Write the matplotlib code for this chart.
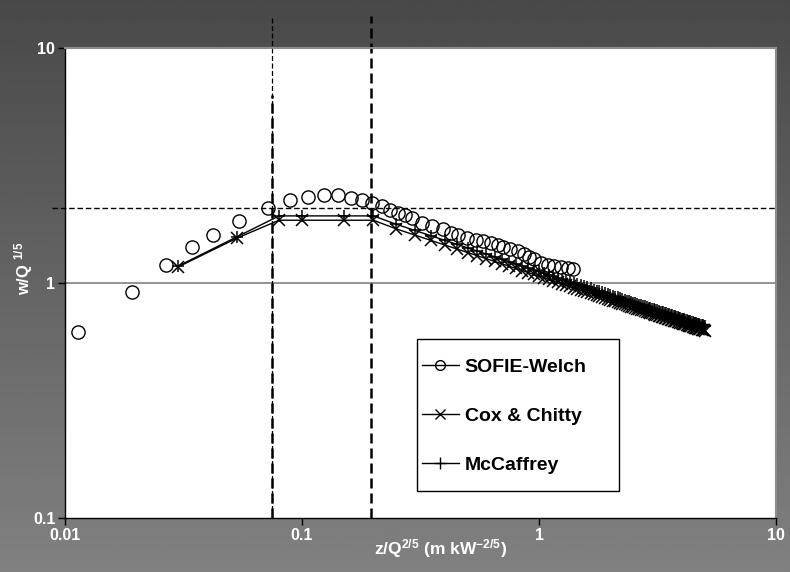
import numpy as np
import matplotlib
matplotlib.use('Agg')
import matplotlib.pyplot as plt
from matplotlib.lines import Line2D
from matplotlib.patches import Rectangle

plt.rcParams['font.family'] = ['Liberation Sans', 'DejaVu Sans']
plt.rcParams['mathtext.fontset'] = 'custom'
plt.rcParams['mathtext.rm'] = 'Liberation Sans:bold'
plt.rcParams['mathtext.default'] = 'rm'

# SOFIE-Welch simulation points
sofie_z = [0.0114, 0.0192, 0.0267, 0.0344, 0.0422, 0.0543, 0.0721, 0.0892, 0.106, 0.124,
           0.142, 0.161, 0.180, 0.198, 0.218, 0.236, 0.255, 0.273, 0.292, 0.322,
           0.355, 0.392, 0.424, 0.457, 0.499, 0.540, 0.583, 0.625, 0.669, 0.708,
           0.758, 0.812, 0.861, 0.904, 0.949, 1.016, 1.087, 1.153, 1.234, 1.321, 1.387]
sofie_w = [0.62, 0.92, 1.19, 1.42, 1.60, 1.84, 2.08, 2.26, 2.32, 2.37,
           2.37, 2.30, 2.26, 2.19, 2.13, 2.05, 1.99, 1.95, 1.89, 1.80,
           1.75, 1.70, 1.63, 1.60, 1.55, 1.52, 1.51, 1.48, 1.45, 1.42,
           1.40, 1.37, 1.33, 1.29, 1.27, 1.22, 1.19, 1.18, 1.17, 1.16, 1.15]

# flame / intermittent region points (both correlations)
near_z = [0.03, 0.053, 0.08, 0.1, 0.15, 0.2]
cox_near_w = [1.17, 1.55, 1.85, 1.85, 1.85, 1.85]
mcc_near_w = [1.18, 1.57, 1.93, 1.93, 1.93, 1.93]

# plume region points
far_z = [0.25, 0.30, 0.35, 0.40, 0.45, 0.50, 0.55, 0.60, 0.65, 0.70,
         0.75, 0.80, 0.85, 0.90, 0.95, 1.00, 1.05, 1.10, 1.15, 1.20,
         1.25, 1.30, 1.35, 1.40, 1.45, 1.50, 1.55, 1.60, 1.65, 1.70,
         1.75, 1.80, 1.85, 1.90, 1.95, 2.00, 2.05, 2.10, 2.15, 2.20,
         2.25, 2.30, 2.35, 2.40, 2.45, 2.50, 2.55, 2.60, 2.65, 2.70,
         2.75, 2.80, 2.85, 2.90, 2.95, 3.00, 3.05, 3.10, 3.15, 3.20,
         3.25, 3.30, 3.35, 3.40, 3.45, 3.50, 3.55, 3.60, 3.65, 3.70,
         3.75, 3.80, 3.85, 3.90, 3.95, 4.00, 4.05, 4.10, 4.15, 4.20,
         4.25, 4.30, 4.35, 4.40, 4.45, 4.50, 4.55, 4.60, 4.65, 4.70,
         4.75, 4.80, 4.85, 4.90, 4.95, 5.00]
mcc_far_w = [1.778, 1.673, 1.589, 1.520, 1.461, 1.411, 1.367, 1.328, 1.293, 1.261,
             1.233, 1.206, 1.182, 1.160, 1.139, 1.120, 1.102, 1.085, 1.069, 1.054,
             1.040, 1.026, 1.013, 1.001, 0.990, 0.978, 0.968, 0.958, 0.948, 0.938,
             0.929, 0.921, 0.912, 0.904, 0.897, 0.889, 0.882, 0.875, 0.868, 0.861,
             0.855, 0.848, 0.842, 0.837, 0.831, 0.825, 0.820, 0.814, 0.809, 0.804,
             0.799, 0.795, 0.790, 0.785, 0.781, 0.777, 0.772, 0.768, 0.764, 0.760,
             0.756, 0.753, 0.749, 0.745, 0.742, 0.738, 0.735, 0.731, 0.728, 0.725,
             0.721, 0.718, 0.715, 0.712, 0.709, 0.706, 0.703, 0.701, 0.698, 0.695,
             0.692, 0.689, 0.687, 0.684, 0.682, 0.679, 0.676, 0.674, 0.672, 0.669,
             0.667, 0.664, 0.662, 0.660, 0.657, 0.655]
cox_far_w = [1.699, 1.598, 1.518, 1.452, 1.396, 1.348, 1.306, 1.269, 1.235, 1.205,
             1.178, 1.153, 1.130, 1.108, 1.088, 1.070, 1.053, 1.037, 1.021, 1.007,
             0.993, 0.980, 0.968, 0.956, 0.945, 0.935, 0.925, 0.915, 0.905, 0.896,
             0.888, 0.880, 0.872, 0.864, 0.857, 0.849, 0.842, 0.836, 0.829, 0.823,
             0.817, 0.811, 0.805, 0.799, 0.794, 0.788, 0.783, 0.778, 0.773, 0.768,
             0.764, 0.759, 0.755, 0.750, 0.746, 0.742, 0.738, 0.734, 0.730, 0.726,
             0.723, 0.719, 0.715, 0.712, 0.709, 0.705, 0.702, 0.699, 0.695, 0.692,
             0.689, 0.686, 0.683, 0.680, 0.677, 0.674, 0.672, 0.669, 0.666, 0.664,
             0.661, 0.658, 0.656, 0.653, 0.651, 0.649, 0.646, 0.644, 0.642, 0.639,
             0.637, 0.635, 0.633, 0.630, 0.628, 0.626]

# reference lines
vlines_z = [0.075, 0.195]
hline_w = 2.08

fig = plt.figure(figsize=(7.9, 5.72), dpi=100)

# vertical gradient background
bg = fig.add_axes([0, 0, 1, 1])
grad = np.linspace(0.285, 0.505, 256).reshape(-1, 1)
bg.imshow(grad, aspect='auto', cmap='gray', vmin=0, vmax=1, extent=[0, 1, 0, 1], origin='upper')
bg.set_axis_off()

ax = fig.add_axes([65/790, 1-518/572, 711/790, 470/572])
ax.set_facecolor('white')
ax.set_xscale('log')
ax.set_yscale('log')
ax.set_xlim(0.01, 10)
ax.set_ylim(0.1, 10)

ax.axhline(1, color='#808080', lw=1.2, zorder=1)

mcc_z = near_z + far_z
mcc_w = mcc_near_w + mcc_far_w
cox_w = cox_near_w + cox_far_w
ax.plot(mcc_z, mcc_w, color='black', lw=1, marker='+', ms=9, mew=1.1, zorder=3)
ax.plot(mcc_z, cox_w, color='black', lw=1, marker='x', ms=8, mew=1.1, zorder=3)
ax.plot(sofie_z, sofie_w, ls='none', marker='o', ms=9.5, mfc='none', mec='black', mew=1, zorder=4)

# dashed reference lines, drawn past the plot frame
ax.plot([vlines_z[0]] * 2, [0.1, 13.7], color='black', lw=0.9, ls=(0, (4, 2)), clip_on=False, zorder=2)
ax.plot([vlines_z[0]] * 2, [0.1, 6.3], color='black', lw=1.8, ls=(0, (4, 2)), clip_on=False, zorder=2)
ax.plot([vlines_z[1]] * 2, [0.1, 13.7], color='black', lw=1.8, ls=(0, (4, 2)), clip_on=False, zorder=2)
ax.plot([0.0088, 10], [hline_w] * 2, color='black', lw=1, ls=(0, (4, 2)), clip_on=False, zorder=2)

for s in ['top', 'right']:
    ax.spines[s].set_color('#8c8c8c')
    ax.spines[s].set_linewidth(1.5)
for s in ['left', 'bottom']:
    ax.spines[s].set_color('black')
    ax.spines[s].set_linewidth(1)

ax.set_xticks([0.01, 0.1, 1, 10])
ax.set_xticklabels(['0.01', '0.1', '1', '10'])
ax.set_yticks([0.1, 1, 10])
ax.set_yticklabels(['0.1', '1', '10'])
ax.minorticks_off()
ax.tick_params(axis='both', direction='out', length=5, width=1, color='black',
               labelcolor='white', labelsize=11.5)
for lab in ax.get_xticklabels() + ax.get_yticklabels():
    lab.set_fontweight('bold')
ax.tick_params(axis='x', pad=2)
ax.tick_params(axis='y', pad=2)

fig.text(441/790, 1-549/572, r'z/Q$^{2/5}$ (m kW$^{-2/5}$)', color='white', fontsize=12.5,
         fontweight='bold', ha='center', va='center')
fig.text(24/790, 1-268/572, r'w/Q $^{1/5}$', color='white', fontsize=12, fontweight='bold',
         ha='center', va='center', rotation=90)

# legend box
fig.patches.append(Rectangle((417/790, 1-491/572), 202/790, 152/572, transform=fig.transFigure,
                             facecolor='white', edgecolor='black', lw=1, zorder=5))
handles = [
    Line2D([], [], color='black', lw=1, marker='o', ms=7, mfc='none', mew=1),
    Line2D([], [], color='black', lw=1, marker='x', ms=6.5, mew=1),
    Line2D([], [], color='black', lw=1, marker='+', ms=8, mew=1),
]
labels = ['SOFIE-Welch', 'Cox & Chitty', 'McCaffrey']
leg = fig.legend(handles, labels, loc='center left',
                 bbox_to_anchor=(422/790, 1-416/572),
                 bbox_transform=fig.transFigure, borderaxespad=0, borderpad=0,
                 frameon=False, prop={'weight': 'bold', 'size': 14}, labelspacing=1.6,
                 handlelength=1.9, handletextpad=0.3)
leg.set_zorder(6)

fig.savefig('out.png', dpi=100)
